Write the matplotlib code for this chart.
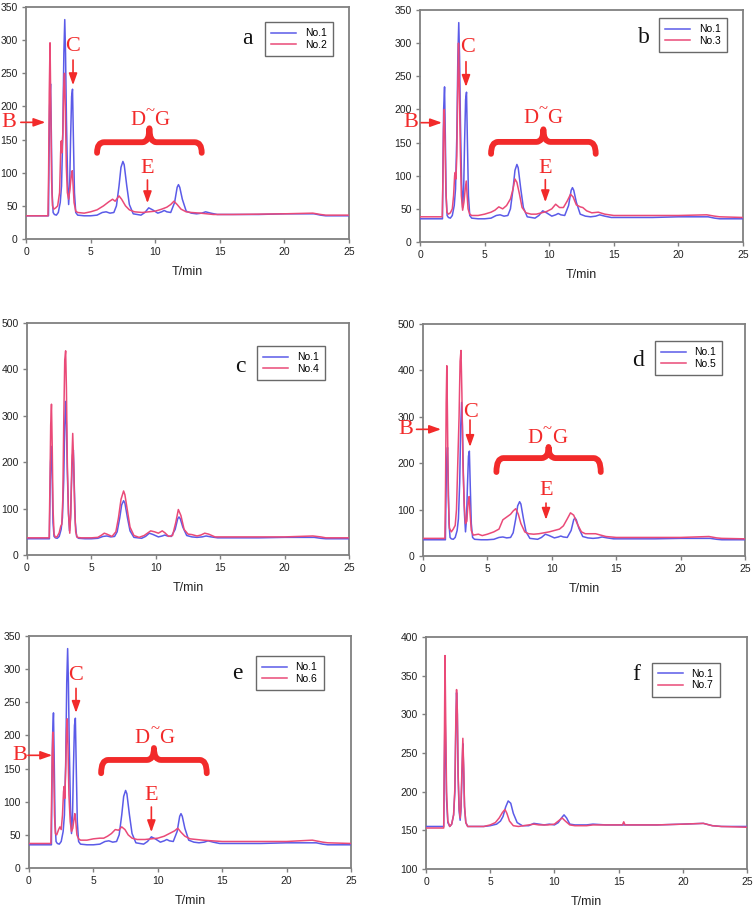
import matplotlib
matplotlib.use("Agg")
import matplotlib.pyplot as plt
from matplotlib.path import Path
from matplotlib.patches import PathPatch

# ---------------- data ----------------
no1_t = [0, 1.74, 1.78, 1.83, 1.9, 1.96, 2.02, 2.1, 2.2, 2.35, 2.5, 2.65, 2.75, 2.85, 2.93, 3.0, 3.06, 3.13, 3.22, 3.3,
         3.38, 3.45, 3.53, 3.6, 3.67, 3.75, 3.85, 4.0, 4.5, 5.0, 5.5, 5.9, 6.2, 6.5, 6.8, 7.0, 7.2, 7.35, 7.5, 7.6,
         7.8, 8.0, 8.3, 8.6, 8.9, 9.2, 9.5, 9.8, 10.2, 10.5, 10.7, 10.9, 11.2, 11.5, 11.7, 11.8, 11.9, 12.1, 12.4, 12.8,
         13.2, 13.6, 13.9, 14.3, 14.8, 16, 18, 20, 21.5, 22.3, 22.8, 23.2, 25]
no1_y = [35, 35, 120, 200, 234, 160, 70, 40, 37, 36, 40, 55, 80, 160, 280, 331, 280, 180, 90, 52,
         80, 150, 215, 226, 150, 70, 40, 36, 35, 35, 36, 40, 41, 39, 40, 50, 80, 108, 117, 112,
         80, 52, 38, 37, 36, 40, 47, 44, 39, 41, 43, 41, 40, 55, 78, 82, 78, 60, 42, 39,
         38, 39, 41, 39, 37, 37, 37, 38, 38, 38, 36, 35, 35]

no2_t = [0, 1.7, 1.75, 1.8, 1.86, 1.92, 1.98, 2.05, 2.15, 2.3, 2.45, 2.6, 2.68, 2.73, 2.78, 2.85, 2.92, 2.98, 3.04, 3.12,
         3.2, 3.3, 3.4, 3.5, 3.58, 3.65, 3.72, 3.85, 4.0, 4.5, 5.0, 5.5, 6.0, 6.4, 6.7, 6.9, 7.2, 7.4, 7.7, 8.0,
         8.4, 9.0, 9.5, 10.0, 10.5, 10.9, 11.2, 11.45, 11.7, 12.0, 12.4, 12.8, 13.5, 14.5, 16, 20, 22.2, 22.8, 23.2, 25]
no2_y = [35, 35, 100, 220, 296, 200, 90, 50, 45, 47, 50, 70, 130, 148, 130, 160, 230, 250, 200, 110,
         70, 60, 75, 95, 103, 80, 55, 42, 40, 39, 41, 44, 50, 56, 60, 57, 65, 60, 50, 44,
         41, 40, 41, 42, 45, 48, 52, 57, 52, 45, 41, 40, 39, 37, 37, 38, 39, 37, 36, 36]

no3_t = [0, 1.72, 1.77, 1.82, 1.88, 1.94, 2.0, 2.08, 2.2, 2.35, 2.5, 2.6, 2.68, 2.73, 2.78, 2.85, 2.92, 2.98, 3.04, 3.12,
         3.2, 3.3, 3.4, 3.5, 3.58, 3.65, 3.72, 3.85, 4.0, 4.5, 5.0, 5.5, 5.8, 6.1, 6.4, 6.7, 7.0, 7.2, 7.35, 7.5,
         7.7, 7.9, 8.2, 8.6, 9.0, 9.4, 9.8, 10.2, 10.5, 10.8, 11.1, 11.4, 11.65, 11.85, 12.1, 12.4, 12.6, 12.9, 13.3, 13.8,
         14.3, 15, 18, 20, 22.2, 22.8, 23.2, 25]
no3_y = [38, 38, 90, 170, 200, 150, 80, 45, 42, 44, 50, 70, 100, 105, 95, 130, 230, 300, 240, 140,
         70, 48, 60, 80, 92, 70, 50, 42, 40, 40, 42, 45, 48, 53, 50, 55, 65, 80, 95, 90,
         72, 52, 44, 42, 42, 44, 46, 50, 57, 52, 52, 62, 72, 68, 56, 53, 52, 47, 44, 45,
         42, 40, 40, 40, 41, 39, 38, 37]

no4_t = [0, 1.72, 1.78, 1.84, 1.9, 1.96, 2.02, 2.1, 2.2, 2.35, 2.5, 2.62, 2.7, 2.78, 2.86, 2.93, 3.0, 3.06, 3.13, 3.22,
         3.32, 3.4, 3.48, 3.55, 3.62, 3.7, 3.78, 3.9, 4.2, 5.0, 5.5, 5.8, 6.0, 6.2, 6.6, 6.9, 7.1, 7.3, 7.5, 7.6,
         7.8, 8.0, 8.3, 8.7, 9.1, 9.4, 9.6, 9.9, 10.2, 10.5, 10.7, 11.0, 11.3, 11.55, 11.75, 11.95, 12.2, 12.5, 12.8, 13.2,
         13.5, 13.8, 14.1, 14.6, 16, 20, 22.2, 22.8, 23.2, 25]
no4_y = [37, 37, 150, 280, 325, 230, 100, 45, 38, 40, 48, 62, 66, 120, 300, 420, 440, 360, 200, 90,
         47, 90, 200, 262, 200, 100, 50, 38, 37, 37, 38, 43, 47, 45, 40, 50, 80, 120, 138, 130,
         95, 60, 42, 38, 42, 48, 52, 50, 47, 52, 48, 40, 42, 70, 98, 85, 55, 45, 44, 41,
         43, 47, 45, 39, 39, 39, 41, 39, 37, 37]

no5_t = [0, 1.7, 1.75, 1.8, 1.85, 1.9, 1.96, 2.05, 2.2, 2.35, 2.5, 2.6, 2.7, 2.8, 2.88, 2.95, 3.02, 3.1, 3.2, 3.3,
         3.4, 3.5, 3.58, 3.66, 3.75, 3.9, 4.1, 4.3, 4.6, 5.0, 5.5, 5.9, 6.2, 6.5, 6.8, 7.0, 7.2, 7.4, 7.6, 7.9,
         8.2, 8.6, 9.0, 9.4, 9.8, 10.2, 10.6, 10.9, 11.2, 11.45, 11.7, 12.0, 12.3, 12.6, 13.0, 13.4, 13.8, 14.2, 15, 20,
         22.2, 22.8, 23.2, 25]
no5_y = [38, 38, 150, 330, 410, 300, 130, 60, 52, 58, 66, 100, 200, 300, 420, 443, 350, 200, 110, 70,
         75, 115, 128, 90, 55, 45, 46, 47, 44, 47, 52, 58, 78, 84, 90, 97, 102, 90, 70, 52,
         48, 47, 48, 50, 52, 55, 58, 65, 80, 93, 88, 68, 52, 48, 48, 48, 45, 42, 40, 40,
         42, 39, 38, 37]

no6_t = [0, 1.7, 1.75, 1.8, 1.86, 1.92, 1.98, 2.05, 2.15, 2.3, 2.4, 2.5, 2.6, 2.68, 2.73, 2.78, 2.85, 2.92, 2.97, 3.03,
         3.1, 3.2, 3.3, 3.4, 3.5, 3.56, 3.63, 3.72, 3.85, 4.0, 4.5, 5.0, 5.5, 5.8, 6.1, 6.4, 6.7, 6.95, 7.2, 7.45,
         7.7, 8.0, 8.4, 9.0, 9.5, 10.0, 10.5, 11.0, 11.3, 11.55, 11.8, 12.1, 12.5, 13.0, 13.5, 14.2, 15, 20, 22.0, 22.8,
         23.2, 25]
no6_y = [37, 37, 100, 170, 205, 150, 80, 52, 50, 58, 62, 58, 80, 115, 123, 105, 150, 210, 225, 180,
         110, 70, 55, 60, 75, 82, 70, 50, 44, 42, 42, 44, 45, 45, 48, 52, 58, 57, 62, 58,
         50, 45, 43, 43, 44, 45, 48, 53, 56, 60, 54, 48, 44, 43, 42, 41, 40, 40, 42, 39,
         38, 37]

f_no1_t = [0, 1.38, 1.43, 1.48, 1.53, 1.6, 1.7, 1.85, 2.0, 2.15, 2.25, 2.32, 2.38, 2.44, 2.5, 2.58, 2.66, 2.72, 2.8, 2.87,
           2.93, 3.0, 3.1, 3.25, 3.5, 4.5, 5.0, 5.5, 5.8, 6.0, 6.2, 6.4, 6.6, 6.8, 7.1, 7.5, 8.0, 8.4, 8.8, 9.2,
           9.6, 10.0, 10.3, 10.55, 10.75, 10.95, 11.2, 11.6, 12.5, 13.0, 14, 15, 18, 20, 21.6, 22.3, 23, 25]
f_no1_y = [155, 155, 230, 305, 260, 190, 160, 155, 158, 170, 200, 280, 328, 300, 220, 175, 163, 175, 220, 262,
           230, 180, 160, 155, 155, 155, 156, 158, 162, 168, 180, 188, 185, 172, 160, 156, 156, 159, 158, 157,
           158, 157, 160, 166, 170, 166, 158, 157, 157, 158, 157, 157, 157, 158, 159, 156, 155, 155]

no7_t = [0, 1.38, 1.43, 1.48, 1.53, 1.6, 1.7, 1.85, 2.0, 2.15, 2.25, 2.32, 2.38, 2.44, 2.5, 2.58, 2.66, 2.72, 2.8, 2.87,
         2.93, 3.0, 3.1, 3.25, 3.5, 4.5, 5.0, 5.4, 5.7, 5.95, 6.15, 6.3, 6.5, 6.8, 7.2, 7.6, 8.0, 8.4, 8.8, 9.5,
         10.0, 10.3, 10.6, 10.85, 11.2, 11.6, 12.5, 13.0, 15.3, 15.4, 15.5, 18, 20, 21.6, 22.3, 23, 25]
no7_y = [153, 153, 260, 376, 300, 200, 162, 155, 158, 170, 205, 290, 332, 305, 225, 178, 166, 180, 230, 269,
         235, 182, 160, 155, 155, 155, 157, 160, 166, 173, 177, 172, 162, 156, 155, 156, 157, 158, 157, 157,
         158, 162, 166, 162, 157, 156, 156, 157, 157, 161, 157, 157, 158, 159, 156, 155, 154]

panel_letters = ["a", "b", "c", "d", "e", "f"]
legend_names = ["No.2", "No.3", "No.4", "No.5", "No.6", "No.7"]
x_ticks = [0, 5, 10, 15, 20, 25]

# ---------------- style ----------------
W, H = 756, 909
fig = plt.figure(figsize=(W / 100, H / 100), dpi=100)
BLUE = "#5b5be8"
RED = "#ea4a78"
ANN = "#f22a2a"
GRAY = "#808080"
SANS = ["Liberation Sans", "DejaVu Sans"]
SERIF = ["Liberation Serif", "DejaVu Serif"]

# axes boxes in pixels: left, top, right, bottom
boxes = [(26, 7, 349, 239), (420, 10, 743, 242),
         (27, 323, 349, 555), (423, 324, 745, 556),
         (29, 636, 351, 868), (426, 637, 747, 869)]
ylims = [(0, 350), (0, 350), (0, 500), (0, 500), (0, 350), (100, 400)]
yticks = [range(0, 351, 50), range(0, 351, 50), range(0, 501, 100), range(0, 501, 100),
          range(0, 351, 50), range(100, 401, 50)]
series = [(no1_t, no1_y, no2_t, no2_y), (no1_t, no1_y, no3_t, no3_y),
          (no1_t, no1_y, no4_t, no4_y), (no1_t, no1_y, no5_t, no5_y),
          (no1_t, no1_y, no6_t, no6_y), (f_no1_t, f_no1_y, no7_t, no7_y)]
letter_pos = [(17.1, 303), (17.3, 309), (16.6, 407), (16.7, 422), (16.2, 294), (16.4, 351)]
legend_anchor = [(0.95, 0.935), (0.95, 0.965), (0.925, 0.90), (0.93, 0.927), (0.915, 0.914), (0.915, 0.89)]

# annotations per panel: B text, B arrow (x0,x1,y), C text, C arrow (x, y0, y1), DG (xD, xG, y), brace (x0,x1,yb,yt,ytip), E text, E arrow
ann = {
    0: dict(B=(-1.3, 176), Barr=(-0.4, 1.5, 176), C=(3.64, 290), Carr=(3.64, 270, 232),
            DG=(8.7, 10.5, 179), brace=(5.5, 13.6, 130, 146, 167), E=(9.4, 107), Earr=(9.4, 89, 54)),
    1: dict(B=(-0.7, 181), Barr=(0.08, 1.7, 180), C=(3.7, 293), Carr=(3.56, 272, 234),
            DG=(8.6, 10.4, 187), brace=(5.5, 13.6, 133, 151, 170), E=(9.7, 111), Earr=(9.7, 94, 60)),
    3: dict(B=(-1.3, 272), Barr=(-0.5, 1.4, 273), C=(3.7, 310), Carr=(3.65, 293, 235),
            DG=(8.7, 10.6, 254), brace=(5.7, 13.8, 181, 211, 235), E=(9.55, 142), Earr=(9.55, 114, 78)),
    4: dict(B=(-0.7, 170), Barr=(-0.08, 1.8, 170), C=(3.65, 291), Carr=(3.65, 271, 234),
            DG=(8.8, 10.7, 196), brace=(5.6, 13.8, 143, 163, 181), E=(9.5, 110), Earr=(9.5, 92, 54)),
}


def brace(ax, x0, x1, yb, yt, ytip):
    xm = (x0 + x1) / 2
    rx = 0.55
    verts = [(x0, yb), (x0, yt), (x0 + rx, yt),
             (xm - rx, yt), (xm, yt), (xm, ytip),
             (xm, yt), (xm + rx, yt),
             (x1 - rx, yt), (x1, yt), (x1, yb)]
    codes = [Path.MOVETO, Path.CURVE3, Path.CURVE3,
             Path.LINETO, Path.CURVE3, Path.CURVE3,
             Path.MOVETO, Path.CURVE3,
             Path.LINETO, Path.CURVE3, Path.CURVE3]
    # rebuild second half properly
    verts = [(x0, yb), (x0, yt), (x0 + rx, yt),
             (xm - rx, yt), (xm, yt), (xm, ytip),
             (xm, yt), (xm + rx, yt),
             (x1 - rx, yt), (x1, yt), (x1, yb)]
    codes = [Path.MOVETO, Path.CURVE3, Path.CURVE3,
             Path.LINETO, Path.CURVE3, Path.CURVE3,
             Path.CURVE3, Path.CURVE3,
             Path.LINETO, Path.CURVE3, Path.CURVE3]
    p = PathPatch(Path(verts, codes), fill=False, edgecolor=ANN, lw=4.2,
                  capstyle="round", joinstyle="round", clip_on=False, zorder=5)
    ax.add_patch(p)


def arrow(ax, xy_from, xy_to):
    ax.annotate("", xy=xy_to, xytext=xy_from, annotation_clip=False,
                arrowprops=dict(arrowstyle="-|>,head_length=0.7,head_width=0.25",
                                color=ANN, lw=1.2, shrinkA=0, shrinkB=0), zorder=6)


for i in range(6):
    l, t, r, b = boxes[i]
    ax = fig.add_axes([l / W, 1 - b / H, (r - l) / W, (b - t) / H])
    t1, y1, t2, y2 = series[i]
    ax.plot(t1, y1, color=BLUE, lw=1.1, label="No.1", zorder=3)
    ax.plot(t2, y2, color=RED, lw=1.1, label=legend_names[i], zorder=3)
    ax.set_xlim(0, 25)
    ax.set_ylim(*ylims[i])
    ax.set_xticks(x_ticks)
    ax.set_yticks(list(yticks[i]))
    for s in ax.spines.values():
        s.set_color(GRAY)
        s.set_linewidth(1.3)
    ax.tick_params(direction="out", length=3, width=1, color=GRAY, labelsize=7.5,
                   labelcolor="#222222", pad=3)
    for lab in ax.get_xticklabels() + ax.get_yticklabels():
        lab.set_family(SANS)
    ax.set_xlabel("T/min", fontsize=9, family=SANS, color="#222222", labelpad=6)
    leg = ax.legend(loc="upper right", bbox_to_anchor=legend_anchor[i], borderaxespad=0,
                    fancybox=False, frameon=True, prop=dict(family=SANS, size=7.5),
                    handlelength=2.4, handletextpad=0.8, borderpad=0.6, labelspacing=0.15)
    leg.get_frame().set_edgecolor("#444444")
    leg.get_frame().set_linewidth(1.0)
    lx, ly = letter_pos[i]
    ax.text(lx, ly, panel_letters[i], fontsize=17, family=SERIF, ha="center", va="center", color="#111111")

    if i in ann:
        a = ann[i]
        ax.text(a["B"][0], a["B"][1], "B", fontsize=16, family=SERIF, color=ANN, ha="center", va="center")
        bx0, bx1, by = a["Barr"]
        arrow(ax, (bx0, by), (bx1, by))
        ax.text(a["C"][0], a["C"][1], "C", fontsize=16, family=SERIF, color=ANN, ha="center", va="center")
        cx, cy0, cy1 = a["Carr"]
        arrow(ax, (cx, cy0), (cx, cy1))
        xD, xG, yDG = a["DG"]
        ax.text(xD, yDG, "D", fontsize=15, family=SERIF, color=ANN, ha="center", va="center")
        ax.text(xG, yDG, "G", fontsize=15, family=SERIF, color=ANN, ha="center", va="center")
        span = ylims[i][1] - ylims[i][0]
        ax.text((xD + xG) / 2, yDG + span * 0.04, "~", fontsize=12, family=SERIF, color=ANN,
                ha="center", va="center")
        brace(ax, *a["brace"])
        ax.text(a["E"][0], a["E"][1], "E", fontsize=16, family=SERIF, color=ANN, ha="center", va="center")
        ex, ey0, ey1 = a["Earr"]
        arrow(ax, (ex, ey0), (ex, ey1))

fig.savefig("out.png", dpi=100)
